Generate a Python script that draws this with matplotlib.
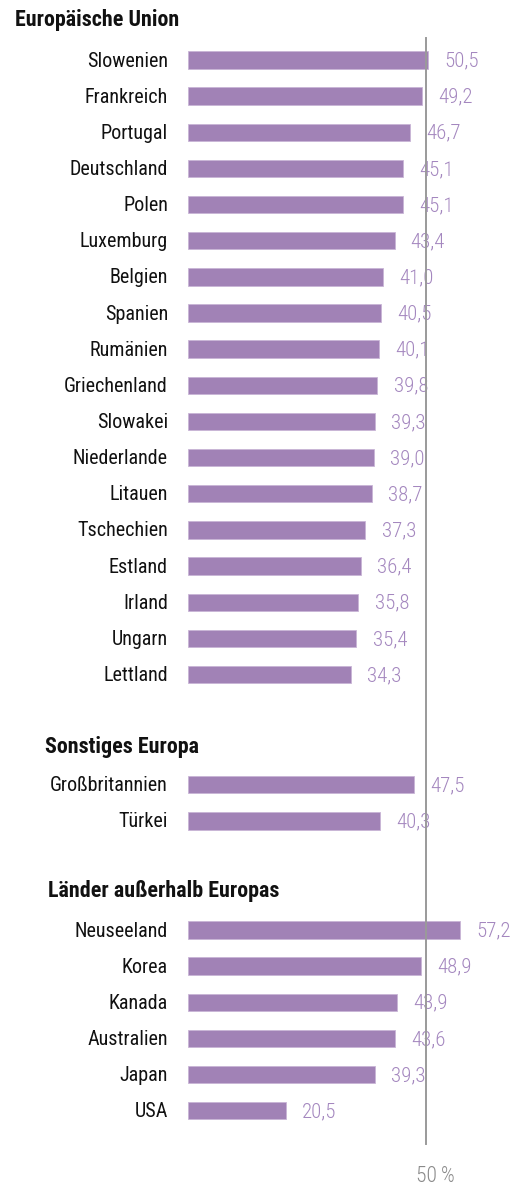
import matplotlib
matplotlib.use('Agg')
import matplotlib.pyplot as plt

# data
eu_countries = ['Slowenien', 'Frankreich', 'Portugal', 'Deutschland', 'Polen', 'Luxemburg',
                'Belgien', 'Spanien', 'Rumänien', 'Griechenland', 'Slowakei', 'Niederlande',
                'Litauen', 'Tschechien', 'Estland', 'Irland', 'Ungarn', 'Lettland']
eu_values = [50.5, 49.2, 46.7, 45.1, 45.1, 43.4, 41.0, 40.5, 40.1, 39.8, 39.3, 39.0,
             38.7, 37.3, 36.4, 35.8, 35.4, 34.3]
other_eu_countries = ['Großbritannien', 'Türkei']
other_eu_values = [47.5, 40.3]
world_countries = ['Neuseeland', 'Korea', 'Kanada', 'Australien', 'Japan', 'USA']
world_values = [57.2, 48.9, 43.9, 43.6, 39.3, 20.5]
group_titles = ['Europäische Union', 'Sonstiges Europa', 'Länder außerhalb Europas']
ref_value = 50
ref_label = '50\u2009%'

bar_color = '#a182b6'
label_color = '#a487bf'
line_color = '#9a9a9a'

plt.rcParams['font.family'] = ['Roboto Condensed', 'Fira Sans Condensed', 'DejaVu Sans']

fig = plt.figure(figsize=(5.13, 11.87), dpi=100)
ax = fig.add_axes([0, 0, 1, 1])
ax.set_xlim(-39.5, 68.3)
ax.set_ylim(31.18, -1.66)
ax.axis('off')

groups = [(eu_countries, eu_values, 0, -1.1),
          (other_eu_countries, other_eu_values, 20.05, 19.0),
          (world_countries, world_values, 24.07, 23.0)]
title_x = [-36.3, -30.0, -29.4]

for gi, (names, vals, start, ty) in enumerate(groups):
    ys = [start + i for i in range(len(names))]
    ax.barh(ys, vals, height=0.48, color=bar_color, edgecolor='#c9b5d6', linewidth=0.6, zorder=2)
    for y, name, v in zip(ys, names, vals):
        ax.text(-4.2, y + 0.03, name, ha='right', va='center', fontsize=14.5, color='#111111')
        ax.text(v + 3.4, y + 0.03, f'{v:.1f}'.replace('.', ','), ha='left', va='center',
                fontsize=15, fontweight='light', color=label_color, zorder=1)
    ax.text(title_x[gi], ty, group_titles[gi], ha='left', va='center', fontsize=15.8,
            fontweight='bold', color='#111111')

ax.plot([ref_value, ref_value], [-0.61, 30.0], color=line_color, lw=1.4, zorder=3)
ax.text(ref_value + 1.9, 30.9, ref_label, ha='center', va='center', fontsize=15.5,
        fontweight='light', color='#8a8a8a')

plt.savefig('out.png', dpi=100)
